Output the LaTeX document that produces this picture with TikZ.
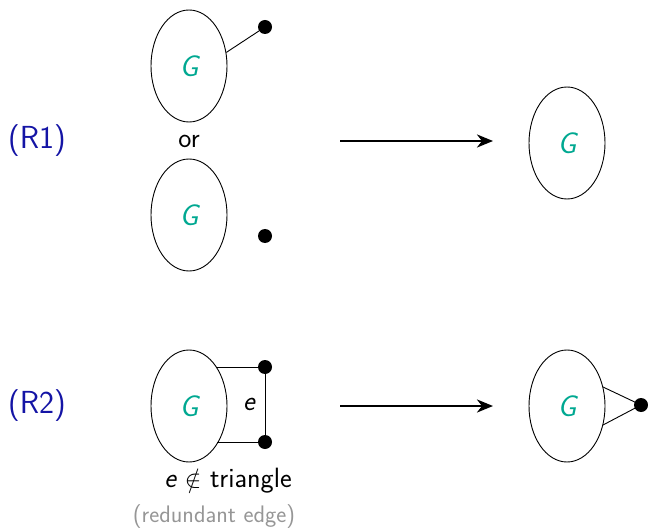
\documentclass[tikz,border=0pt]{standalone}
\usepackage{amssymb}
\usetikzlibrary{arrows.meta,shapes.geometric}
\definecolor{gteal}{RGB}{0,168,145}
\definecolor{rblue}{RGB}{20,20,165}
\definecolor{rgray}{RGB}{150,150,150}
\tikzset{
  graphblob/.style={ellipse,draw,line width=0.9bp,minimum width=76bp,minimum height=112bp,inner sep=0pt,
    font=\fontsize{30}{34}\selectfont\sffamily\itshape,text=gteal},
  vertexdot/.style={circle,fill=black,minimum size=14bp,inner sep=0pt},
  ruletag/.style={font=\fontsize{32}{38}\selectfont\sffamily,text=rblue},
  plain/.style={font=\fontsize{28}{32}\selectfont\sffamily},
  edge/.style={line width=0.9bp},
  reduce/.style={line width=2.6bp,-{Stealth[length=16bp,width=13bp,inset=5bp]}}
}
\begin{document}
\begin{tikzpicture}[x=1bp,y=-1bp]
\useasboundingbox (0,0) rectangle (648,531);
% rule R1
\node[ruletag] (r1) at (37,141) {(R1)};
\node[graphblob] (g1) at (189,66) {G};
\node[vertexdot] (v1) at (265,27) {};
\draw[edge] (g1.20) -- (v1);
\node[plain] (or) at (189,141) {or};
\node[graphblob] (g2) at (189,215) {G};
\node[vertexdot] (v2) at (265,236) {};
\coordinate (a1s) at (340,141);
\coordinate (a1e) at (493,141);
\draw[reduce] (a1s) -- (a1e);
\node[graphblob] (g3) at (567,143) {G};
% rule R2
\node[ruletag] (r2) at (37,406) {(R2)};
\node[graphblob] (g4) at (189,406) {G};
\node[vertexdot] (v3) at (265,367) {};
\node[vertexdot] (v4) at (265,442) {};
\coordinate (t3) at (217,367);
\coordinate (t4) at (217,442);
\draw[edge] (t3) -- (v3.center) -- (v4.center) -- (t4);
\node[plain,font=\fontsize{28}{32}\selectfont\sffamily\itshape] (elab) at (249,404) {e};
\node[plain] (cond) at (228,481) {\textit{e}\;$\notin$ triangle};
\node[plain,font=\fontsize{24}{28}\selectfont\sffamily,text=rgray] (red) at (214,517) {(redundant edge)};
\coordinate (a2s) at (340,406);
\coordinate (a2e) at (493,406);
\draw[reduce] (a2s) -- (a2e);
\node[graphblob] (g5) at (567,406) {G};
\node[vertexdot] (v5) at (641,405) {};
\coordinate (s1) at (603,387);
\coordinate (s2) at (603,425);
\draw[edge] (s1) -- (v5.center) -- (s2);
\end{tikzpicture}
\end{document}
